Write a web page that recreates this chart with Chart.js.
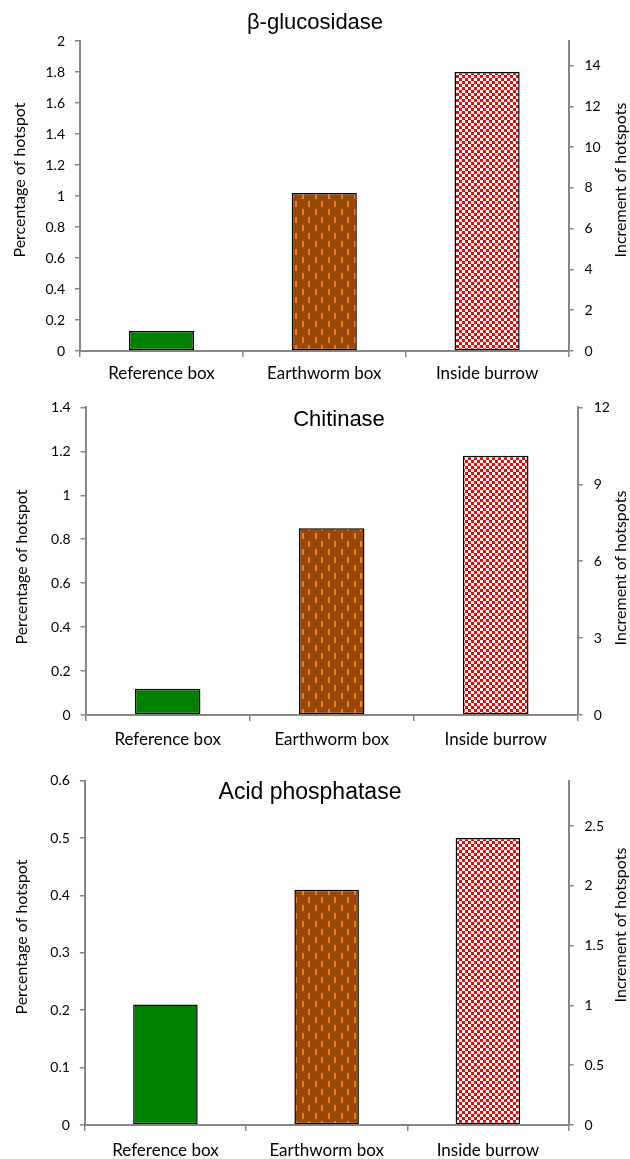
<!DOCTYPE html>
<html>
<head>
<meta charset="utf-8">
<script src="https://cdn.jsdelivr.net/npm/chart.js@4.4.0/dist/chart.umd.min.js"></script>
<style>
  body { margin: 0; background: #fff; }
  .panel { position: absolute; left: 0; width: 630px; }
</style>
</head>
<body>
<div class="panel" style="top:0;height:388px"><canvas id="c1"></canvas></div>
<div class="panel" style="top:388px;height:372px"><canvas id="c2"></canvas></div>
<div class="panel" style="top:760px;height:399px"><canvas id="c3"></canvas></div>
<script>
// data
const categories = ['Reference box', 'Earthworm box', 'Inside burrow'];

const glucosidase = [0.13, 1.02, 1.80];
const chitinase = [0.12, 0.85, 1.18];
const phosphatase = [0.21, 0.41, 0.50];

const glucLeftTicks = [0, 0.2, 0.4, 0.6, 0.8, 1, 1.2, 1.4, 1.6, 1.8, 2];
const glucRightTicks = [0, 2, 4, 6, 8, 10, 12, 14];
const chitLeftTicks = [0, 0.2, 0.4, 0.6, 0.8, 1, 1.2, 1.4];
const chitRightTicks = [0, 3, 6, 9, 12];
const phosLeftTicks = [0, 0.1, 0.2, 0.3, 0.4, 0.5, 0.6];
const phosRightTicks = [0, 0.5, 1, 1.5, 2, 2.5];

const leftTitle = 'Percentage of hotspot';
const rightTitle = 'Increment of hotspots';

const AXIS = '#868686';
Chart.defaults.font.family = 'Lato, sans-serif';
Chart.defaults.color = '#000';

// fill patterns
function brownPattern() {
  const c = document.createElement('canvas');
  c.width = 13; c.height = 16;
  const g = c.getContext('2d');
  g.fillStyle = '#984806';
  g.fillRect(0, 0, 13, 16);
  g.fillStyle = '#f57c12';
  g.fillRect(3, 1, 2, 6);
  g.fillRect(9, 9, 2, 6);
  return g.createPattern(c, 'repeat');
}
function checkPattern() {
  const c = document.createElement('canvas');
  c.width = 6; c.height = 6;
  const g = c.getContext('2d');
  g.fillStyle = '#ff0000';
  g.fillRect(0, 0, 6, 6);
  g.fillStyle = '#ffffff';
  g.fillRect(0, 0, 3, 3);
  g.fillRect(3, 3, 3, 3);
  return g.createPattern(c, 'repeat');
}

// titles drawn on top of each panel
function labelsPlugin(p) {
  return {
    id: 'panelLabels',
    afterDraw(chart) {
      const ctx = chart.ctx;
      ctx.save();
      ctx.fillStyle = '#000';
      ctx.textAlign = 'center';
      ctx.textBaseline = 'middle';
      ctx.font = p.titleSize + 'px "Liberation Sans", Arial, sans-serif';
      ctx.fillText(p.title, p.titleX, p.titleY - p.top);
      ctx.font = '16px Lato, sans-serif';
      [[leftTitle, p.leftX, p.leftY], [rightTitle, p.rightX, p.rightY]].forEach(([t, x, y]) => {
        ctx.save();
        ctx.translate(x, y - p.top);
        ctx.rotate(-Math.PI / 2);
        ctx.fillText(t, 0, 0);
        ctx.restore();
      });
      ctx.restore();
    }
  };
}

function fmtTick(v) { return String(+v.toFixed(2)); }

function makeChart(id, values, leftTicks, leftMax, rightTicks, rightMax, p) {
  return new Chart(document.getElementById(id), {
    type: 'bar',
    data: {
      labels: categories,
      datasets: [{
        data: values,
        yAxisID: 'y',
        backgroundColor: ['#008000', brownPattern(), checkPattern()],
        borderColor: '#000',
        borderWidth: 1.5,
        borderSkipped: false,
        barPercentage: 0.4,
        categoryPercentage: 1,
      }],
    },
    options: {
      responsive: true,
      maintainAspectRatio: false,
      animation: false,
      events: [],
      layout: { padding: { top: p.padTop, left: 0, right: 0, bottom: 0 } },
      plugins: { legend: { display: false }, tooltip: { enabled: false } },
      scales: {
        x: {
          grid: { drawOnChartArea: false, tickLength: 6, color: AXIS, lineWidth: 1.5, offset: true },
          border: { color: AXIS, width: 2 },
          ticks: { font: { size: 17 }, padding: p.xPad, maxRotation: 0 },
          afterFit: s => { s.height = p.xHeight; },
        },
        y: {
          position: 'left',
          min: 0, max: leftMax,
          grid: { drawOnChartArea: false, tickLength: 5, color: AXIS, lineWidth: 1.5 },
          border: { color: AXIS, width: 2 },
          ticks: { font: { size: 14 }, padding: 10, callback: fmtTick },
          afterBuildTicks: s => { s.ticks = leftTicks.map(v => ({ value: v })); },
          afterFit: s => { s.width = p.left; },
        },
        y2: {
          position: 'right',
          min: 0, max: rightMax,
          grid: { drawOnChartArea: false, tickLength: 5, color: AXIS, lineWidth: 1.5 },
          border: { color: AXIS, width: 2 },
          ticks: { font: { size: 14 }, padding: 11, callback: fmtTick },
          afterBuildTicks: s => { s.ticks = rightTicks.map(v => ({ value: v })); },
          afterFit: s => { s.width = 630 - p.right; },
        },
      },
    },
    plugins: [labelsPlugin(p)],
  });
}

makeChart('c1', glucosidase, glucLeftTicks, 2, glucRightTicks, 15.2, {
  top: 0, padTop: 41, xHeight: 37, xPad: 6, left: 80, right: 568.5,
  title: 'β-glucosidase', titleSize: 22, titleX: 315, titleY: 23,
  leftX: 20, leftY: 180, rightX: 621, rightY: 180,
});
makeChart('c2', chitinase, chitLeftTicks, 1.4, chitRightTicks, 12, {
  top: 388, padTop: 12.7, xHeight: 45, xPad: 8, left: 85.6, right: 577.7,
  title: 'Chitinase', titleSize: 22, titleX: 339, titleY: 420,
  leftX: 22, leftY: 567, rightX: 621, rightY: 568,
});
makeChart('c3', phosphatase, phosLeftTicks, 0.6, phosRightTicks, 2.88, {
  top: 760, padTop: 20.7, xHeight: 34, xPad: 9, left: 84.8, right: 568.5,
  title: 'Acid phosphatase', titleSize: 23, titleX: 310, titleY: 793,
  leftX: 22, leftY: 937, rightX: 621, rightY: 925,
});
</script>
</body>
</html>
